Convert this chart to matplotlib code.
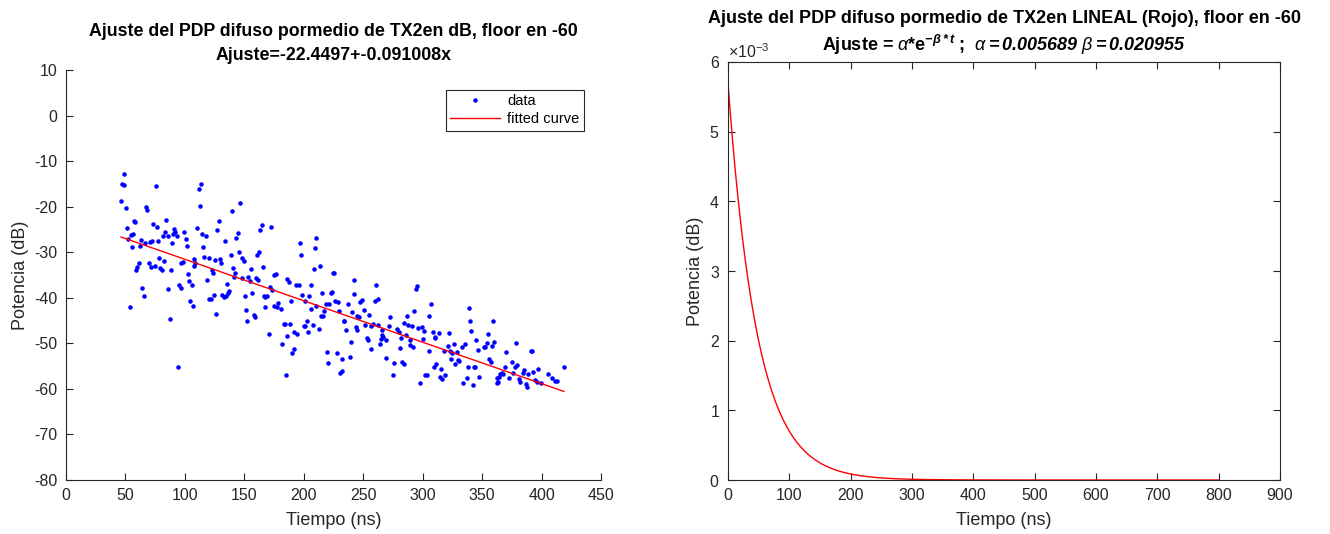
import numpy as np
import matplotlib
matplotlib.use("Agg")
import matplotlib.pyplot as plt

plt.rcParams['font.family'] = ['Liberation Sans', 'DejaVu Sans']
plt.rcParams['axes.unicode_minus'] = False
plt.rcParams['mathtext.fontset'] = 'custom'
plt.rcParams['mathtext.rm'] = 'Liberation Sans'
plt.rcParams['mathtext.it'] = 'Liberation Sans:italic'
plt.rcParams['mathtext.bf'] = 'Liberation Sans:bold'
plt.rcParams['mathtext.bfit'] = 'Liberation Sans:italic:bold'

# ==== datos PDP difuso (dB) ====
tiempo_ns = [
    49.1, 47.4, 48.5, 46.3, 50.2, 75.4, 113.5, 111.6, 112.4, 67.0, 68.4, 57.2, 58.3, 51.3, 84.4,
    73.2, 76.2, 110.2, 54.4, 56.3, 52.4, 55.5, 90.8, 91.9, 83.3, 90.0, 93.4, 99.5, 81.3, 85.8,
    114.4, 117.7, 100.6, 63.1, 62.2, 66.4, 70.6, 72.6, 77.4, 89.1, 101.5, 115.2, 116.3, 120.3, 78.5,
    82.4, 61.4, 60.0, 59.1, 69.5, 71.2, 74.6, 79.1, 80.5, 88.3, 96.4, 98.4, 107.9, 108.5, 107.4,
    102.3, 103.4, 105.7, 118.9, 95.3, 97.0, 86.1, 64.2, 65.3, 104.3, 106.5, 120.5, 53.5, 87.5, 94.5,
    146.3, 139.3, 128.4, 127.3, 144.4, 143.3, 164.6, 163.4, 172.7, 133.4, 196.8, 197.6, 145.5, 138.5, 125.3,
    129.2, 130.4, 147.7, 149.7, 162.3, 160.4, 165.4, 140.4, 142.4, 141.6, 155.6, 122.5, 123.6, 153.3, 159.5,
    161.8, 148.3, 155.0, 176.3, 175.2, 186.1, 187.5, 193.7, 195.7, 135.4, 136.8, 136.0, 124.5, 121.7, 131.5,
    132.6, 134.3, 150.5, 156.7, 166.2, 169.0, 167.4, 173.3, 171.9, 178.6, 177.5, 174.7, 180.8, 189.2, 198.8,
    167.6, 151.7, 157.8, 158.7, 152.5, 126.4, 183.1, 183.9, 188.7, 200.4, 192.0, 194.6, 170.4, 185.6, 181.4,
    191.5, 190.4, 184.8,
    210.5, 209.4, 208.6, 213.6, 225.4, 224.3, 241.9, 260.7, 205.8, 215.6, 222.9, 223.7, 242.5, 204.4, 201.3,
    210.3, 206.3, 217.3, 216.1, 214.5, 218.4, 220.9, 226.5, 228.5, 236.9, 249.0, 247.3, 262.1, 260.2, 250.9,
    229.9, 240.8, 245.0, 246.7, 255.1, 234.1, 233.5, 258.5, 262.7, 272.5, 271.4, 278.1, 280.1, 202.7, 200.7,
    203.5, 208.0, 212.8, 235.2, 243.6, 244.5, 251.5, 256.2, 266.0, 252.9, 254.0, 265.8, 264.9, 266.6, 269.4,
    263.8, 256.5, 239.7, 219.8, 227.6, 238.9, 232.4, 220.6, 231.8, 230.7, 268.8, 275.9, 274.7,
    295.2, 294.1, 306.7, 338.9, 293.0, 287.1, 305.6, 340.1, 284.0, 287.9, 290.7, 295.8, 299.1, 301.4, 340.9,
    308.4, 313.4, 321.8, 310.6, 310.1, 286.0, 282.0, 289.6, 300.2, 344.5, 289.3, 291.6, 280.9, 305.0, 321.0,
    326.0, 335.9, 333.1, 346.2, 351.8, 318.2, 323.2, 324.6, 328.8, 330.8, 329.4, 323.5, 327.2, 311.5, 309.2,
    315.4, 338.1, 342.9, 344.0, 282.9, 284.6, 302.2, 303.6, 297.4, 314.5, 316.2, 319.0, 334.2, 337.3, 342.0,
    347.6,
    358.9, 354.9, 353.8, 352.1, 358.3, 360.0, 378.2, 370.1, 391.1, 392.2, 356.0, 357.2, 375.1, 379.0, 377.4,
    369.2, 366.4, 365.3, 364.2, 367.3, 362.8, 385.5, 384.1, 388.9, 393.1, 397.3, 405.1, 375.7, 372.9, 380.7,
    382.1, 386.6, 387.7, 362.2, 363.6, 394.5, 395.9, 399.5, 408.8, 411.0, 412.7, 418.8,
]
potencia_db = [
    -12.8, -15.0, -15.2, -18.7, -20.3, -15.4, -15.0, -16.2, -19.9, -20.1, -20.7, -23.1, -23.4, -24.7, -23.0,
    -23.8, -24.5, -24.6, -26.2, -26.1, -27.2, -28.8, -25.0, -25.5, -25.6, -25.9, -26.4, -25.6, -26.4, -26.5,
    -26.1, -26.4, -27.0, -27.4, -28.6, -28.0, -27.7, -27.5, -27.5, -27.9, -28.7, -28.8, -31.0, -31.3, -31.3,
    -32.0, -32.3, -33.3, -33.8, -32.4, -33.3, -33.1, -33.5, -33.8, -34.0, -32.4, -32.1, -31.5, -32.4, -33.0,
    -34.8, -36.3, -37.3, -36.2, -37.2, -37.8, -38.1, -37.9, -39.7, -40.6, -41.8, -40.3, -42.1, -44.6, -55.1,
    -19.3, -21.0, -23.2, -25.1, -25.8, -26.9, -24.0, -25.1, -24.5, -27.5, -27.9, -30.5, -29.9, -30.7, -31.7,
    -31.5, -32.4, -31.2, -31.9, -29.9, -30.6, -33.2, -33.5, -34.5, -35.5, -33.6, -33.9, -34.5, -35.4, -35.6,
    -36.1, -35.6, -36.4, -34.8, -35.1, -35.9, -36.5, -37.3, -37.3, -37.0, -38.6, -38.9, -39.3, -40.3, -39.4,
    -39.9, -39.7, -39.6, -38.9, -39.7, -39.6, -39.9, -38.3, -37.7, -41.2, -42.0, -41.8, -42.4, -40.8, -39.3,
    -42.1, -42.7, -43.8, -44.2, -45.1, -43.5, -45.8, -45.8, -45.7, -46.2, -47.6, -48.0, -48.0, -48.3, -50.2,
    -51.2, -52.2, -56.9,
    -26.9, -29.1, -33.7, -33.1, -34.5, -34.5, -36.1, -37.1, -37.3, -39.0, -38.9, -38.7, -39.2, -39.5, -40.8,
    -41.8, -42.5, -43.0, -44.0, -44.0, -41.3, -41.3, -40.6, -40.9, -41.4, -40.5, -41.0, -40.3, -40.8, -42.7,
    -43.0, -43.1, -44.0, -44.3, -43.8, -45.1, -45.0, -45.7, -45.9, -44.3, -46.3, -46.9, -47.6, -45.0, -46.3,
    -47.5, -45.9, -46.9, -47.0, -46.4, -47.0, -46.0, -46.3, -47.1, -48.8, -49.3, -48.2, -49.1, -48.7, -49.3,
    -50.2, -51.3, -49.8, -52.0, -52.1, -52.9, -53.5, -54.4, -56.0, -56.5, -53.3, -54.3, -56.9,
    -37.4, -38.1, -41.3, -42.2, -42.8, -44.0, -44.1, -45.0, -45.6, -46.0, -46.3, -46.7, -46.5, -47.3, -47.2,
    -47.6, -47.8, -47.7, -48.5, -48.9, -48.2, -48.9, -49.3, -49.0, -49.3, -50.4, -50.8, -51.0, -51.7, -50.5,
    -50.1, -50.1, -50.7, -51.5, -50.9, -51.7, -51.6, -52.2, -52.0, -53.8, -53.7, -53.4, -54.5, -54.5, -55.1,
    -55.6, -55.3, -55.1, -55.3, -54.2, -54.5, -56.9, -56.9, -58.6, -57.3, -57.9, -56.9, -58.6, -57.7, -59.1,
    -57.3,
    -45.1, -48.0, -50.0, -50.9, -50.6, -49.7, -50.0, -52.0, -51.7, -51.7, -53.5, -54.0, -54.0, -54.7, -55.1,
    -55.3, -56.4, -56.8, -57.3, -56.8, -57.5, -55.8, -56.4, -56.8, -56.2, -55.6, -56.8, -56.6, -57.6, -57.8,
    -58.4, -58.9, -59.5, -58.8, -58.4, -58.1, -58.4, -58.8, -57.5, -58.3, -58.3, -55.3,
]

# ajuste lineal en dB
p0, p1 = -22.4497, -0.091008
# ajuste exponencial en lineal
alpha, beta = 0.005689, 0.020955
t_max_lineal = 800

gris = '#262626'

fig = plt.figure(figsize=(13.3, 5.34), dpi=100)
ax1 = fig.add_axes([0.0496, 0.1011, 0.4023, 0.7678])
ax2 = fig.add_axes([0.5474, 0.1011, 0.4150, 0.7828])

# ==== 1. ajuste en dB ====
tx = np.array(tiempo_ns)
xf = np.linspace(tx.min(), tx.max(), 200)
ax1.plot(tiempo_ns, potencia_db, '.', color='blue', ms=4.5, label='data')
ax1.plot(xf, p0 + p1 * xf, '-', color='red', lw=1.0, label='fitted curve')
ax1.set_xlim(0, 450)
ax1.set_ylim(-80, 10)
ax1.set_xticks(np.arange(0, 451, 50))
ax1.set_yticks(np.arange(-80, 11, 10))
ax1.spines['top'].set_visible(False)
ax1.spines['right'].set_visible(False)
ax1.tick_params(direction='in', length=5, width=0.8, colors=gris, labelsize=11.5, pad=6)
ax1.set_xlabel('Tiempo (ns)', fontsize=13, color=gris, labelpad=6)
ax1.set_ylabel('Potencia (dB)', fontsize=13, color=gris)
leg = ax1.legend(loc='upper right', bbox_to_anchor=(0.981, 0.97), fontsize=10.5,
                 fancybox=False, framealpha=1, edgecolor=gris, handlelength=3.4,
                 borderpad=0.3, labelspacing=0.3, handletextpad=0.5)
leg.get_frame().set_linewidth(0.8)
ax1.annotate('Ajuste del PDP difuso pormedio de TX2en dB, floor en -60',
             xy=(0.5, 1), xycoords='axes fraction', xytext=(0, 34),
             textcoords='offset pixels', ha='center', va='baseline',
             fontsize=12.8, fontweight='bold')
ax1.annotate('Ajuste=%.4f+%.6fx' % (p0, p1),
             xy=(0.5, 1), xycoords='axes fraction', xytext=(0, 10),
             textcoords='offset pixels', ha='center', va='baseline',
             fontsize=12.8, fontweight='bold')

# ==== 2. ajuste en lineal ====
t = np.linspace(0, t_max_lineal, 801)
ax2.plot(t, alpha * np.exp(-beta * t), '-', color='red', lw=1.0)
ax2.set_xlim(0, 900)
ax2.set_ylim(0, 0.006)
ax2.set_xticks(np.arange(0, 901, 100))
ax2.set_yticks(np.arange(0, 0.0061, 0.001))
ax2.ticklabel_format(axis='y', style='sci', scilimits=(0, 0), useMathText=True)
ax2.yaxis.get_offset_text().set_fontsize(11.5)
ax2.yaxis.get_offset_text().set_color('#505050')
ax2.tick_params(direction='in', length=5, width=0.8, colors=gris, labelsize=11.5, pad=6,
                top=True, right=True)
for s in ax2.spines.values():
    s.set_color(gris)
    s.set_linewidth(0.8)
for s in ax1.spines.values():
    s.set_color(gris)
    s.set_linewidth(0.8)
ax2.set_xlabel('Tiempo (ns)', fontsize=13, color=gris, labelpad=6)
ax2.set_ylabel('Potencia (dB)', fontsize=13, color=gris)
ax2.annotate('Ajuste del PDP difuso pormedio de TX2en LINEAL (Rojo), floor en -60',
             xy=(0.5, 1), xycoords='axes fraction', xytext=(0, 39),
             textcoords='offset pixels', ha='center', va='baseline',
             fontsize=13, fontweight='bold')
ax2.annotate(r'Ajuste = $\alpha$*e$^{\mathbfit{-\beta*t}}$ ;  '
             r'$\alpha\mathbfit{=0.005689}\ \beta\mathbfit{=0.020955}$',
             xy=(0.5, 1), xycoords='axes fraction', xytext=(0, 11),
             textcoords='offset pixels', ha='center', va='baseline',
             fontsize=13, fontweight='bold')

fig.savefig('out.png', dpi=100)
